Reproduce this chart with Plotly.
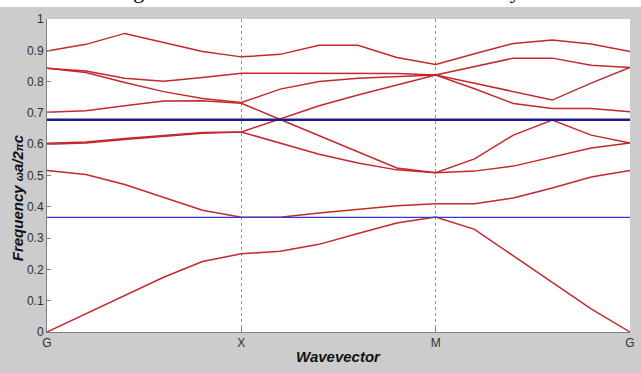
import plotly.graph_objects as go

# k-path sample positions (G -> X -> M -> G), 5 steps per segment
k = [0.0, 0.2, 0.4, 0.6, 0.8, 1.0, 1.2, 1.4, 1.6, 1.8, 2.0, 2.2, 2.4, 2.6, 2.8, 3.0]
tick_pos = [0, 1, 2, 3]
tick_labels = ["G", "X", "M", "G"]

band1 = [0.000, 0.058, 0.118, 0.175, 0.225, 0.250, 0.258, 0.280, 0.315, 0.348, 0.367, 0.328, 0.243, 0.159, 0.074, 0.000]
band2 = [0.516, 0.503, 0.471, 0.431, 0.389, 0.367, 0.367, 0.380, 0.391, 0.403, 0.410, 0.410, 0.428, 0.460, 0.495, 0.516]
band3 = [0.600, 0.604, 0.615, 0.624, 0.635, 0.639, 0.603, 0.568, 0.540, 0.518, 0.509, 0.553, 0.629, 0.677, 0.629, 0.604]
band4 = [0.603, 0.607, 0.618, 0.627, 0.637, 0.639, 0.680, 0.723, 0.757, 0.790, 0.821, 0.777, 0.730, 0.714, 0.714, 0.704]
band5 = [0.702, 0.707, 0.723, 0.738, 0.739, 0.731, 0.679, 0.628, 0.577, 0.524, 0.509, 0.514, 0.530, 0.558, 0.588, 0.604]
band6 = [0.843, 0.829, 0.797, 0.768, 0.746, 0.733, 0.776, 0.800, 0.811, 0.816, 0.821, 0.795, 0.769, 0.741, 0.795, 0.845]
band7 = [0.843, 0.834, 0.811, 0.801, 0.813, 0.827, 0.827, 0.827, 0.827, 0.826, 0.821, 0.848, 0.875, 0.875, 0.852, 0.845]
band8 = [0.898, 0.919, 0.954, 0.926, 0.896, 0.879, 0.887, 0.916, 0.916, 0.877, 0.855, 0.889, 0.922, 0.933, 0.920, 0.896]
bands = [band1, band2, band3, band4, band5, band6, band7, band8]

gap_upper = 0.678
gap_lower = 0.366

fig = go.Figure()
for b in bands:
    fig.add_trace(go.Scatter(x=k, y=b, mode="lines",
                             line=dict(color="#c3282e", width=1.5),
                             showlegend=False, hoverinfo="skip"))

fig.add_trace(go.Scatter(x=[k[0], k[-1]], y=[gap_upper, gap_upper], mode="lines",
                         line=dict(color="#1c1c8a", width=2.5), showlegend=False))
fig.add_trace(go.Scatter(x=[k[0], k[-1]], y=[gap_lower, gap_lower], mode="lines",
                         line=dict(color="#3a3ad2", width=1.3), showlegend=False))

PW = 588.0  # plot width in px
PH = 313.0  # plot height in px

fig.update_layout(
    width=641, height=373,
    margin=dict(l=47, r=6, t=19, b=41),
    paper_bgcolor="#cccccc",
    plot_bgcolor="white",
    font=dict(family="Liberation Sans, Arial", size=12, color="#303030"),
    xaxis=dict(range=[0, 3], tickvals=tick_pos, ticktext=tick_labels,
               showgrid=True, gridcolor="#909090", griddash="dot", gridwidth=1,
               showline=True, linecolor="#808080", linewidth=1,
               ticks="inside", ticklen=4, tickcolor="#808080",
               zeroline=False, tickfont=dict(size=12, color="#303030")),
    yaxis=dict(range=[0, 1], dtick=0.1, tick0=0,
               showgrid=False, showline=True, linecolor="#808080", linewidth=1,
               ticks="inside", ticklen=4, tickcolor="#808080",
               zeroline=False, tickfont=dict(size=12, color="#303030")),
    shapes=[dict(type="rect", xref="paper", yref="paper",
                 x0=-0.2, x1=1.1, y0=1 + 12 / PH, y1=1.2,
                 fillcolor="white", line=dict(width=0), layer="below")],
)

fig.add_annotation(text="<b><i>Wavevector</i></b>", xref="paper", yref="paper",
                   x=0.5, y=-24 / PH, yanchor="middle", showarrow=False,
                   font=dict(size=15, color="#111111", family="Liberation Sans, Arial"))
fig.add_annotation(text="<b><i>Frequency <span style='font-size:11px'>ω</span>a/2<span style='font-size:11px'>π</span>c</i></b>",
                   xref="paper", yref="paper", x=-30 / PW, y=(332 - 198) / PH,
                   textangle=-90, showarrow=False, xanchor="center", yanchor="middle",
                   font=dict(size=15, color="#111111", family="Liberation Sans, Arial"))
fig.add_annotation(text="Fig. 2. Band Structure of the 2D Photonic Crystal",
                   xref="paper", yref="paper", x=0.49, y=1 + 19 / PH + 9 / PH,
                   yanchor="middle", showarrow=False,
                   font=dict(size=22, color="black", family="Liberation Serif, Times New Roman"))
fig.add_annotation(text="<b>I</b>", xref="paper", yref="paper",
                   x=(313 - 47) / PW, y=-38 / PH, yanchor="top", showarrow=False,
                   font=dict(size=16, color="black", family="Liberation Sans, Arial"))

fig.write_html("out.html")
